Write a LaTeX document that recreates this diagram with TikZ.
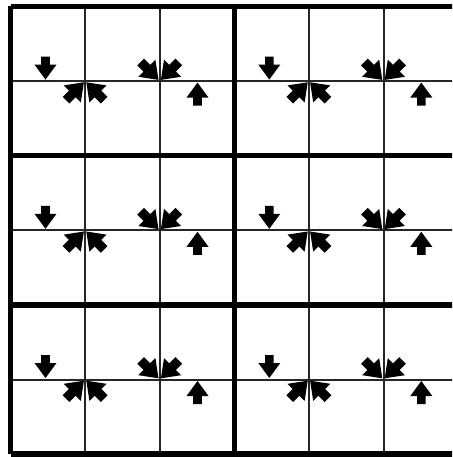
\documentclass[tikz,border=0pt]{standalone}
\begin{document}
\begin{tikzpicture}[x=1pt,y=-1pt,
  thingrid/.style={line width=2pt,draw=black!85},
  thickgrid/.style={line width=5.5pt,draw=black,line cap=square},
  arr/.pic={\fill[black] (0,0) -- (11,15) -- (4.3,15) -- (4.3,23) -- (-4.3,23) -- (-4.3,15) -- (-11,15) -- cycle;}]
\useasboundingbox (0,0) rectangle (452,457);
\fill[white] (0,0) rectangle (452,457);
\clip (0,0) rectangle (452,457);
\def\c{74.6}
% thin lines
\foreach \k in {1,2,4,5} {
  \coordinate (vt\k) at (10.5+\k*\c, 6.5);
  \coordinate (vb\k) at (10.5+\k*\c, 454.1);
  \draw[thingrid] (vt\k) -- (vb\k);
}
\foreach \k in {1,3,5} {
  \coordinate (hl\k) at (10.5, 6.5+\k*\c);
  \coordinate (hr\k) at (458.1, 6.5+\k*\c);
  \draw[thingrid] (hl\k) -- (hr\k);
}
% thick lines
\foreach \k in {0,3,6} {
  \coordinate (Vt\k) at (10.5+\k*\c, 6.5);
  \coordinate (Vb\k) at (10.5+\k*\c, 454.1);
  \draw[thickgrid] (Vt\k) -- (Vb\k);
}
\foreach \k in {0,2,4,6} {
  \coordinate (Hl\k) at (10.5, 6.5+\k*\c);
  \coordinate (Hr\k) at (458.1, 6.5+\k*\c);
  \draw[thickgrid] (Hl\k) -- (Hr\k);
}
% arrows
\foreach \i in {0,1} {
  \foreach \j in {0,1,2} {
    \pgfmathsetmacro{\X}{10.5+3*\c*\i}
    \pgfmathsetmacro{\Y}{6.5+2*\c*\j}
    \pic[rotate=180] (dn\i\j) at (\X+35, \Y+\c-1.5) {arr};
    \pic[rotate=-45,scale=1.1] (ne\i\j) at (\X+\c-1.2, \Y+\c+1.2) {arr};
    \pic[rotate=45,scale=1.1] (nw\i\j) at (\X+\c+1.2, \Y+\c+1.2) {arr};
    \pic[rotate=-135,scale=1.1] (se\i\j) at (\X+2*\c-1.2, \Y+\c-1.2) {arr};
    \pic[rotate=135,scale=1.1] (sw\i\j) at (\X+2*\c+1.2, \Y+\c-1.2) {arr};
    \pic (up\i\j) at (\X+187, \Y+\c+1.5) {arr};
  }
}
\end{tikzpicture}
\end{document}
